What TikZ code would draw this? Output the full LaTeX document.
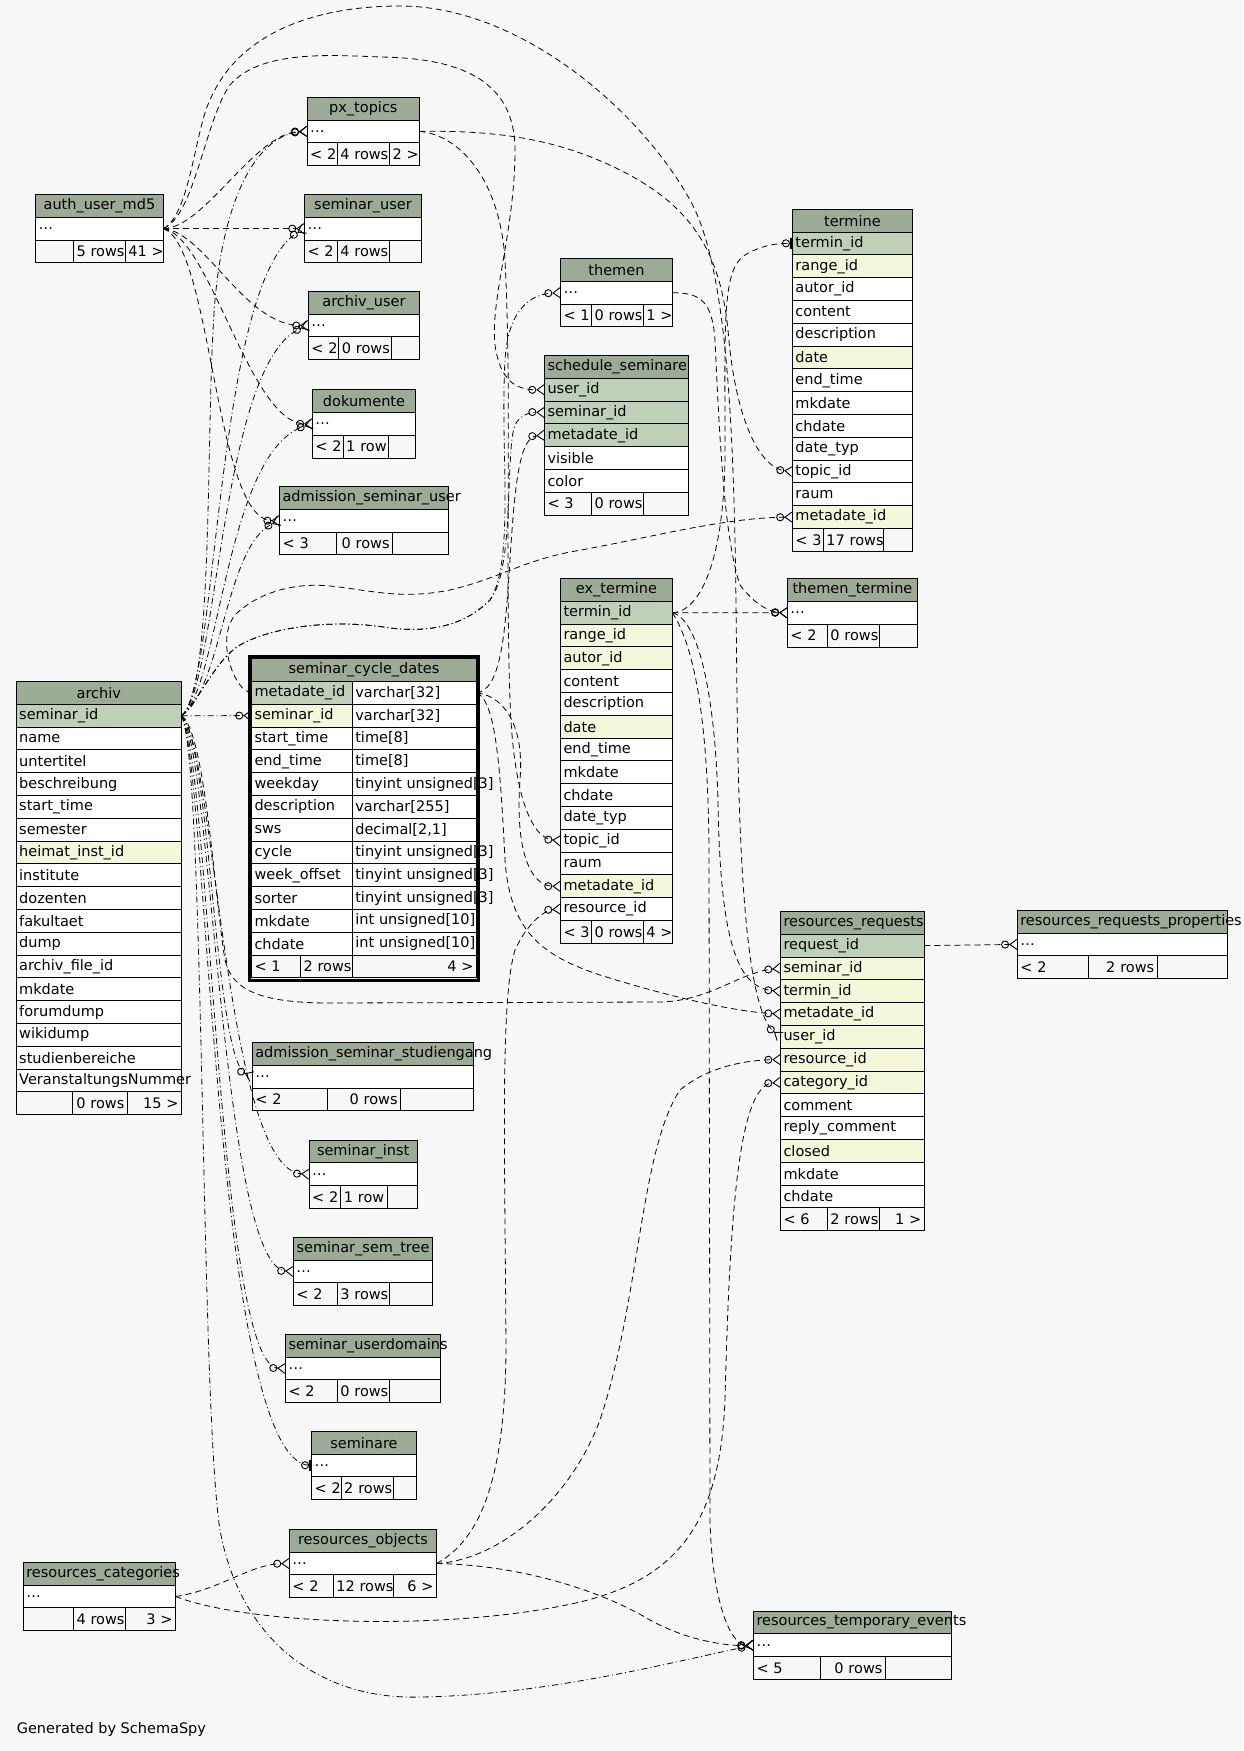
\documentclass[tikz,border=0pt]{standalone}
\usepackage{fontspec}
\setmainfont{DejaVu Sans}
\usetikzlibrary{arrows.meta,fit}
\definecolor{bg}{HTML}{F7F7F7}
\definecolor{head}{HTML}{9BAB96}
\definecolor{pkey}{HTML}{BED1B8}
\definecolor{idx}{HTML}{F4F7DA}
\newcommand\fs{\fontsize{14.5}{17}\selectfont}

% one table = header, rows, footer
\newcommand\dbhead[4]{%
  \pgfmathsetmacro\tw{#3-6}
  \node[hd, minimum width=#3pt, text width=\tw pt, align=center, alias=#1-0] (#1) at #2 {\mbox{#4}};
}
\newcommand\dbrows[3]{%
  \pgfmathsetmacro\tw{#2-6}
  \foreach \txt/\sty [count=\i] in {#3} {
    \pgfmathtruncatemacro\j{\i-1}
    \node[\sty, minimum width=#2pt, text width=\tw pt] (#1-\i) at (#1-\j.south west) {\mbox{\txt}};
  }
}
\newcommand\dbfoot[8]{%
  \pgfmathsetmacro\wa{#3-6}\pgfmathsetmacro\wb{#4-6}\pgfmathsetmacro\wc{#5-6}
  \node[ft, minimum width=#3pt, text width=\wa pt] (#1-fa) at (#1-#2.south west) {\mbox{#6}};
  \node[ft, minimum width=#4pt, text width=\wb pt, align=right] (#1-fb) at (#1-fa.north east) {\mbox{#7}};
  \node[ft, minimum width=#5pt, text width=\wc pt, align=right] (#1-fc) at (#1-fb.north east) {\mbox{#8}};
}

\tikzset{
  cell/.style={draw, line width=0.9pt, anchor=north west, outer sep=0pt, inner xsep=3pt,
    inner ysep=0pt, minimum height=22.8pt, font=\fs, align=left},
  hd/.style={cell, fill=head},
  pk/.style={cell, fill=pkey},
  ix/.style={cell, fill=idx},
  cl/.style={cell, fill=white},
  ft/.style={cell, fill=bg},
  rel/.style={line width=0.8pt, dash pattern=on 6pt off 4pt},
  reldot/.style={line width=0.8pt, dash pattern=on 6pt off 3pt on 1pt off 3pt},
  many/.style={-{Circle[open,length=8pt,line width=0.9pt] Straight Barb[reversed,length=7pt,width=10pt,line width=0.9pt]}},
  one/.style={-{Circle[open,length=8pt,line width=0.9pt] Bar[width=11pt,line width=2.5pt]}},
}

\begin{document}
\begin{tikzpicture}[x=1pt, y=-1pt]
\useasboundingbox[fill=bg] (0,0) rectangle (1243,1751);

% tables
\dbhead{auth}{(35.6,194.4)}{127.7}{auth\_user\_md5}
\dbrows{auth}{127.7}{\ldots/cl}
\dbfoot{auth}{1}{37.9}{51.8}{38}{}{5 rows}{41 >}

\dbhead{pxt}{(307.2,97.2)}{112.3}{px\_topics}
\dbrows{pxt}{112.3}{\ldots/cl}
\dbfoot{pxt}{1}{30.1}{52.2}{30}{< 2}{4 rows}{2 >}

\dbhead{suser}{(304.5,194.4)}{117}{seminar\_user}
\dbrows{suser}{117}{\ldots/cl}
\dbfoot{suser}{1}{32.8}{52.2}{32}{< 2}{4 rows}{}

\dbhead{auser}{(308.4,291.2)}{111.1}{archiv\_user}
\dbrows{auser}{111.1}{\ldots/cl}
\dbfoot{auser}{1}{30.5}{52.6}{28}{< 2}{0 rows}{}

\dbhead{doku}{(312.4,389.6)}{103.2}{dokumente}
\dbrows{doku}{103.2}{\ldots/cl}
\dbfoot{doku}{1}{30.8}{45.5}{26.9}{< 2}{1 row}{}

\dbhead{asu}{(279.6,486.4)}{168.8}{admission\_seminar\_user}
\dbrows{asu}{168.8}{\ldots/cl}
\dbfoot{asu}{1}{56.9}{56.1}{55.8}{< 3}{0 rows}{}

\dbhead{themen}{(560.5,258.5)}{111.9}{themen}
\dbrows{themen}{111.9}{\ldots/cl}
\dbfoot{themen}{1}{31}{51.9}{29}{< 1}{0 rows}{1 >}

\dbhead{sched}{(544.5,355.5)}{143.8}{schedule\_seminare}
\dbrows{sched}{143.8}{user\_id/pk, seminar\_id/pk, metadate\_id/pk, visible/cl, color/cl}
\dbfoot{sched}{5}{47}{51.9}{44.9}{< 3}{0 rows}{}

\dbhead{termine}{(792.4,209.3)}{120}{termine}
\dbrows{termine}{120}{termin\_id/pk, range\_id/ix, autor\_id/cl, content/cl, description/cl,
  date/ix, end\_time/cl, mkdate/cl, chdate/cl, date\_typ/cl, topic\_id/cl, raum/cl, metadate\_id/ix}
\dbfoot{termine}{13}{31}{60}{29}{< 3}{17 rows}{}

\dbhead{tthem}{(787.3,578.6)}{130.3}{themen\_termine}
\dbrows{tthem}{130.3}{\ldots/cl}
\dbfoot{tthem}{1}{40.1}{52}{38.2}{< 2}{0 rows}{}

\dbhead{ext}{(560.5,578.5)}{111.9}{ex\_termine}
\dbrows{ext}{111.9}{termin\_id/pk, range\_id/ix, autor\_id/ix, content/cl, description/cl,
  date/ix, end\_time/cl, mkdate/cl, chdate/cl, date\_typ/cl, topic\_id/cl, raum/cl,
  metadate\_id/ix, resource\_id/cl}
\dbfoot{ext}{14}{31}{51.9}{29}{< 3}{0 rows}{4 >}

\dbhead{scd}{(251.5,658.6)}{225}{seminar\_cycle\_dates}
\foreach \ca/\cb/\sty [count=\i] in {metadate\_id/varchar[32]/pk, seminar\_id/varchar[32]/ix,
  start\_time/time[8]/cl, end\_time/time[8]/cl, weekday/tinyint unsigned[3]/cl,
  description/varchar[255]/cl, sws/{decimal[2,1]}/cl, cycle/tinyint unsigned[3]/cl,
  week\_offset/tinyint unsigned[3]/cl, sorter/tinyint unsigned[3]/cl,
  mkdate/int unsigned[10]/cl, chdate/int unsigned[10]/cl} {
  \pgfmathtruncatemacro\j{\i-1}
  \node[\sty, minimum width=100.8pt, text width=94.8pt] (scd-\i) at (scd-\j.south west) {\mbox{\ca}};
  \node[cl, minimum width=124.2pt, text width=118.2pt] (scd-\i-t) at (scd-\i.north east) {\mbox{\cb}};
}
\dbfoot{scd}{12}{49}{51.8}{124.2}{< 1}{2 rows}{4 >}
\node[draw, line width=3pt, inner sep=2.3pt, fit=(scd)(scd-fc)] (scdframe) {};

\dbhead{ass}{(252.3,1042.4)}{221}{admission\_seminar\_studiengang}
\dbrows{ass}{221}{\ldots/cl}
\dbfoot{ass}{1}{75.1}{73.2}{72.7}{< 2}{0 rows}{}

\dbhead{sinst}{(309.2,1140)}{108}{seminar\_inst}
\dbrows{sinst}{108}{\ldots/cl}
\dbfoot{sinst}{1}{31.6}{46.3}{30.1}{< 2}{1 row}{}

\dbhead{ssem}{(293.4,1237.2)}{139.2}{seminar\_sem\_tree}
\dbrows{ssem}{139.2}{\ldots/cl}
\dbfoot{ssem}{1}{43.9}{52.2}{43.1}{< 2}{3 rows}{}

\dbhead{sdom}{(285.5,1334.2)}{154.6}{seminar\_userdomains}
\dbrows{sdom}{154.6}{\ldots/cl}
\dbfoot{sdom}{1}{51.8}{52.2}{50.6}{< 2}{0 rows}{}

\dbhead{sem}{(311.6,1431.2)}{104.8}{seminare}
\dbrows{sem}{104.8}{\ldots/cl}
\dbfoot{sem}{1}{29.6}{52.2}{23}{< 2}{2 rows}{}

\dbhead{robj}{(289.4,1529.3)}{147.1}{resources\_objects}
\dbrows{robj}{147.1}{\ldots/cl}
\dbfoot{robj}{1}{43.9}{60.1}{43.1}{< 2}{12 rows}{6 >}

\dbhead{rcat}{(23.3,1562.3)}{152.3}{resources\_categories}
\dbrows{rcat}{152.3}{\ldots/cl}
\dbfoot{rcat}{1}{50.2}{51.8}{50.3}{}{4 rows}{3 >}

\dbhead{rreq}{(780.5,911.4)}{143.8}{resources\_requests}
\dbrows{rreq}{143.8}{request\_id/pk, seminar\_id/ix, termin\_id/ix, metadate\_id/ix, user\_id/ix,
  resource\_id/ix, category\_id/ix, comment/cl, reply\_comment/cl, closed/ix, mkdate/cl, chdate/cl}
\dbfoot{rreq}{12}{46.9}{52}{44.9}{< 6}{2 rows}{1 >}

\dbhead{rprop}{(1017.3,910.2)}{210.2}{resources\_requests\_properties}
\dbrows{rprop}{210.2}{\ldots/cl}
\dbfoot{rprop}{1}{71.1}{68.8}{70.3}{< 2}{2 rows}{}

\dbhead{rtev}{(753.5,1611.1)}{197.9}{resources\_temporary\_events}
\dbrows{rtev}{197.9}{\ldots/cl}
\dbfoot{rtev}{1}{66.7}{65.2}{66}{< 5}{0 rows}{}

\dbhead{archiv}{(16.2,681.5)}{165.3}{archiv}
\dbrows{archiv}{165.3}{seminar\_id/pk, name/cl, untertitel/cl, beschreibung/cl, start\_time/cl,
  semester/cl, heimat\_inst\_id/ix, institute/cl, dozenten/cl, fakultaet/cl, dump/cl,
  archiv\_file\_id/cl, mkdate/cl, forumdump/cl, wikidump/cl, studienbereiche/cl,
  VeranstaltungsNummer/cl}
\dbfoot{archiv}{17}{56.6}{54.5}{54.2}{}{0 rows}{15 >}

\node[anchor=west, font=\fs, inner sep=0pt] (gen) at (16.6,1729) {Generated by SchemaSpy};

% auth_user_md5
\draw[rel,many] (auth-1.east) .. controls (205,228) and (255,132) .. (pxt-1.west);
\draw[rel,many] (auth-1.east) -- (suser-1.west);
\draw[rel,many] (auth-1.east) .. controls (205,232) and (245,326) .. (auser-1.west);
\draw[rel,many] (auth-1.east) .. controls (210,236) and (250,424) .. (doku-1.west);
\draw[rel,many] (auth-1.east) .. controls (212,245) and (215,521) .. (asu-1.west);
\draw[rel,many] (auth-1.east) .. controls (195,215) and (205,120) .. (230,85)
  .. controls (260,50) and (330,55) .. (380,57) .. controls (460,58) and (515,80) .. (515,150)
  .. controls (515,230) and (490,300) .. (495,345) .. controls (500,380) and (515,390) .. (sched-1.west);
\draw[rel,many] (auth-1.east) .. controls (190,215) and (195,130) .. (210,100)
  .. controls (240,30) and (320,6) .. (400,6) .. controls (520,6) and (640,110) .. (690,200)
  .. controls (735,280) and (735,500) .. (737,700) .. controls (739,850) and (745,1010) .. (rreq-5.west);

% archiv
\draw[reldot,many] (archiv-1.east) -- (scd-2.west);
\draw[reldot,many] (archiv-1.east) .. controls (215,690) and (205,420) .. (215,300)
  .. controls (225,190) and (260,135) .. (pxt-1.west);
\draw[reldot,many] (archiv-1.east) .. controls (218,690) and (215,280) .. (suser-1.west);
\draw[reldot,many] (archiv-1.east) .. controls (218,690) and (220,360) .. (auser-1.west);
\draw[reldot,many] (archiv-1.east) .. controls (220,690) and (225,450) .. (doku-1.west);
\draw[reldot,many] (archiv-1.east) .. controls (222,690) and (225,545) .. (asu-1.west);
\draw[reldot,many] (archiv-1.east) .. controls (210,740) and (215,1060) .. (ass-1.west);
\draw[reldot,many] (archiv-1.east) .. controls (215,745) and (225,1170) .. (sinst-1.west);
\draw[reldot,many] (archiv-1.east) .. controls (212,750) and (222,1268) .. (ssem-1.west);
\draw[reldot,many] (archiv-1.east) .. controls (210,760) and (218,1366) .. (sdom-1.west);
\draw[reldot,one] (archiv-1.east) .. controls (208,770) and (215,1463) .. (sem-1.west);
\draw[reldot,many] (archiv-1.east) .. controls (200,700) and (215,660) .. (240,645)
  .. controls (270,628) and (330,618) .. (390,628) .. controls (440,634) and (470,620) .. (490,600)
  .. controls (515,570) and (505,450) .. (515,425) .. controls (520,415) and (530,412) .. (sched-2.west);
\draw[reldot,many] (archiv-1.east) .. controls (200,700) and (215,660) .. (240,645)
  .. controls (270,628) and (330,618) .. (390,628) .. controls (440,634) and (470,620) .. (490,600)
  .. controls (515,560) and (500,450) .. (505,360) .. controls (508,310) and (530,294) .. (themen-1.west);
\draw[rel,many] (archiv-1.east) .. controls (205,730) and (215,900) .. (225,960)
  .. controls (232,990) and (260,1003) .. (330,1003) -- (660,1002)
  .. controls (710,1001) and (740,972) .. (rreq-2.west);
\draw[reldot,many] (archiv-1.east) .. controls (205,760) and (200,1400) .. (220,1530)
  .. controls (240,1640) and (320,1700) .. (420,1697) .. controls (550,1695) and (680,1660) .. (rtev-1.west);

% px_topics, themen
\draw[rel,many] (pxt-1.east) .. controls (500,130) and (560,140) .. (620,170)
  .. controls (690,205) and (720,250) .. (728,330) .. controls (735,420) and (760,468) .. (termine-11.west);
\draw[rel,many] (pxt-1.east) .. controls (460,135) and (500,180) .. (505,260)
  .. controls (512,400) and (505,550) .. (510,700) .. controls (513,790) and (530,838) .. (ext-11.west);
\draw[rel,many] (themen-1.east) .. controls (700,293) and (712,300) .. (715,340)
  .. controls (720,450) and (725,540) .. (740,585) .. controls (755,605) and (770,612) .. (tthem-1.west);

% ex_termine
\draw[rel,many] (ext-1.east) -- (tthem-1.west);
\draw[rel,one] (ext-1.east) .. controls (700,612) and (725,560) .. (725,450)
  .. controls (725,320) and (722,270) .. (745,255) .. controls (760,246) and (775,243) .. (termine-1.west);
\draw[rel,many] (ext-1.east) .. controls (700,620) and (715,700) .. (718,800)
  .. controls (720,950) and (740,988) .. (rreq-3.west);
\draw[rel,many] (ext-1.east) .. controls (690,640) and (708,700) .. (709,850) -- (710,1520)
  .. controls (712,1600) and (730,1645) .. (rtev-1.west);

% seminar_cycle_dates
\draw[rel,many] (scd-1-t.east) .. controls (500,690) and (505,640) .. (510,560)
  .. controls (515,480) and (520,437) .. (sched-3.west);
\draw[rel,many] (scd-1-t.east) .. controls (500,695) and (525,720) .. (520,780)
  .. controls (515,850) and (530,886) .. (ext-13.west);
\draw[rel,many] (scd-1-t.east) .. controls (495,700) and (500,760) .. (505,860)
  .. controls (510,930) and (540,955) .. (600,975) .. controls (680,1000) and (740,1012) .. (rreq-4.west);
\draw[rel,many] (scd-1.west) .. controls (235,692) and (215,640) .. (235,615)
  .. controls (255,595) and (290,582) .. (330,586) .. controls (370,590) and (400,600) .. (450,590)
  .. controls (500,578) and (520,562) .. (570,552) .. controls (650,538) and (720,518) .. (termine-13.west);

% resources
\draw[rel,many] (rcat-1.east) .. controls (220,1590) and (250,1564) .. (robj-1.west);
\draw[rel,many] (rcat-1.east) .. controls (250,1625) and (450,1632) .. (580,1602)
  .. controls (680,1578) and (720,1520) .. (725,1400) .. controls (730,1200) and (740,1085) .. (rreq-7.west);
\draw[rel,many] (robj-1.east) .. controls (500,1560) and (570,1500) .. (600,1420)
  .. controls (640,1300) and (640,1150) .. (680,1090) .. controls (710,1065) and (750,1060) .. (rreq-6.west);
\draw[rel,many] (robj-1.east) .. controls (480,1540) and (505,1480) .. (506,1350)
  .. controls (505,1150) and (500,1000) .. (515,950) .. controls (528,922) and (545,910) .. (ext-14.west);
\draw[rel,many] (robj-1.east) .. controls (520,1565) and (600,1590) .. (650,1620)
  .. controls (690,1642) and (730,1646) .. (rtev-1.west);
\draw[rel,many] (rreq-1.east) -- (rprop-1.west);
\end{tikzpicture}
\end{document}
